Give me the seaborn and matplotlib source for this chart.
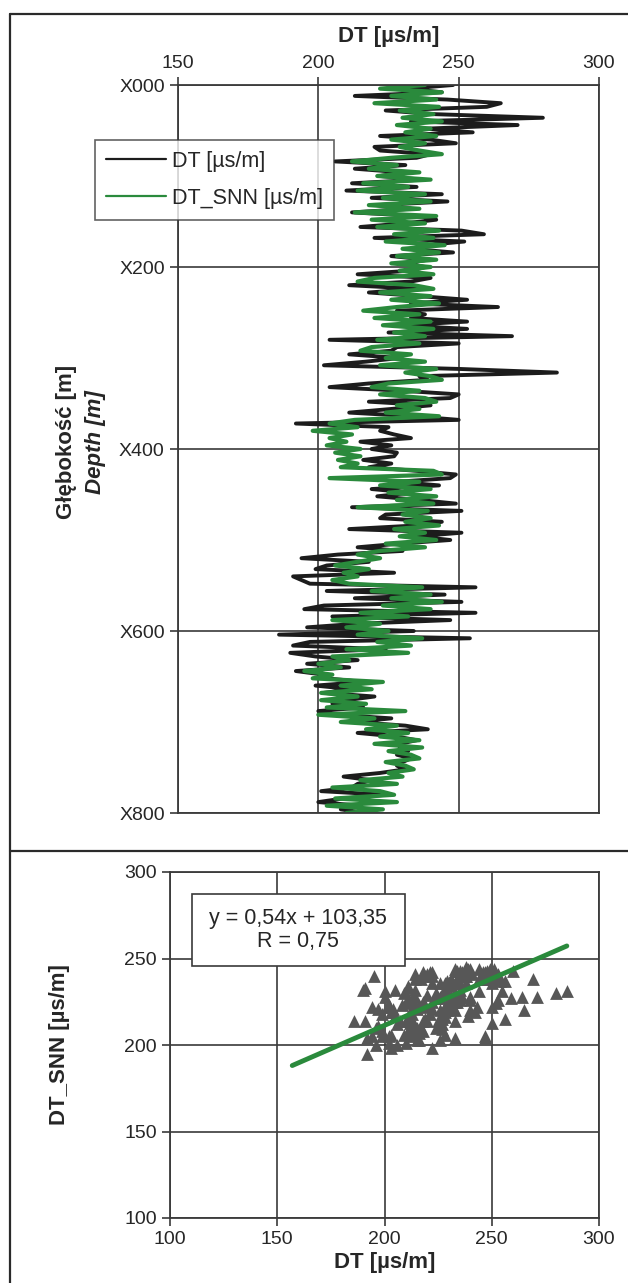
import numpy as np
import matplotlib.pyplot as plt
import seaborn as sns
from matplotlib.lines import Line2D
from matplotlib.patches import Rectangle

# depth log, one sample every 4 m (X000 .. X800)
depth = list(range(0, 801, 4))

dt = [248, 232, 244, 213, 246, 265, 260, 224, 241, 280,
      233, 271, 238, 255, 222, 240, 249, 220, 222, 240,
      235, 206, 231, 213, 230, 222, 237, 212, 235, 210,
      244, 219, 246, 221, 233, 212, 236, 242, 231, 215,
      251, 259, 220, 252, 238, 233, 248, 226, 239, 231,
      238, 233, 214, 240, 233, 211, 236, 218, 236, 253,
      233, 264, 228, 238, 233, 253, 229, 253, 225, 269,
      204, 250, 228, 226, 211, 229, 217, 202, 250, 285,
      236, 239, 218, 204, 230, 250, 247, 218, 240, 226,
      211, 234, 250, 192, 225, 222, 227, 233, 215, 226,
      219, 228, 227, 216, 226, 218, 235, 249, 247, 228,
      243, 219, 233, 221, 236, 249, 212, 251, 224, 222,
      244, 235, 211, 251, 235, 247, 229, 214, 230, 207,
      194, 218, 203, 199, 227, 191, 194, 197, 256, 203,
      245, 213, 251, 202, 195, 256, 205, 247, 214, 196,
      234, 186, 254, 197, 191, 224, 190, 199, 214, 196,
      211, 192, 202, 203, 216, 199, 212, 202, 220, 210,
      205, 216, 200, 206, 226, 213, 231, 239, 214, 228,
      235, 229, 229, 232, 228, 233, 230, 228, 231, 222,
      209, 219, 214, 212, 201, 224, 209, 200, 215, 208,
      217]

dt_snn = [238, 222, 244, 226, 242, 220, 243, 229, 241, 230,
          244, 228, 240, 231, 242, 226, 238, 229, 236, 244,
          226, 212, 228, 218, 236, 221, 240, 216, 232, 214,
          238, 223, 240, 218, 236, 213, 242, 219, 238, 221,
          243, 227, 241, 224, 245, 230, 243, 228, 242, 226,
          240, 229, 241, 220, 214, 234, 241, 222, 240, 226,
          243, 228, 216, 236, 220, 240, 223, 241, 227, 238,
          221, 236, 219, 215, 233, 224, 238, 222, 242, 231,
          240, 244, 225, 219, 236, 222, 238, 242, 228, 236,
          224, 243, 213, 204, 214, 198, 212, 204, 210, 203,
          215, 206, 215, 207, 214, 208, 241, 244, 204, 236,
          222, 240, 225, 242, 228, 241, 214, 239, 230, 240,
          231, 243, 227, 238, 229, 242, 224, 238, 222, 214,
          222, 214, 206, 218, 209, 214, 205, 211, 237, 219,
          240, 226, 244, 223, 240, 215, 232, 205, 222, 210,
          225, 214, 237, 221, 233, 210, 232, 205, 211, 200,
          208, 195, 205, 198, 223, 208, 219, 201, 214, 201,
          217, 203, 231, 200, 220, 208, 228, 217, 232, 222,
          236, 220, 237, 225, 233, 236, 224, 231, 234, 225,
          230, 215, 228, 205, 222, 227, 206, 228, 203, 223,
          210]

depth_ticks = [0, 200, 400, 600, 800]
depth_labels = ["X000", "X200", "X400", "X600", "X800"]

# linear fit printed on the crossplot
fit_slope = 0.54
fit_intercept = 103.35
fit_x = np.array([157, 285])
fit_text = "y = 0,54x + 103,35\nR = 0,75"

BLACK = "#1c1c1c"
GREEN = "#2a8a3c"
GRID = "#3a3a3a"

sns.set_style("white")
plt.rcParams["font.family"] = ["Liberation Sans", "DejaVu Sans"]

W, H = 628, 1283
fig = plt.figure(figsize=(W / 100, H / 100), dpi=100)

# ---- top panel: depth log ----
ax1 = fig.add_axes([178 / W, 1 - 813 / H, 421 / W, 728 / H])
sns.lineplot(x=dt, y=depth, sort=False, estimator=None, color=BLACK, lw=2.8,
             label="DT [µs/m]", ax=ax1)
sns.lineplot(x=dt_snn, y=depth, sort=False, estimator=None, color=GREEN, lw=3.0,
             label="DT_SNN [µs/m]", ax=ax1)
ax1.set_xlim(150, 300)
ax1.set_ylim(800, 0)
ax1.set_xticks([150, 200, 250, 300])
ax1.set_yticks(depth_ticks)
ax1.set_yticklabels(depth_labels)
ax1.xaxis.tick_top()
ax1.xaxis.set_label_position("top")
ax1.set_xlabel("DT [µs/m]", fontsize=16, fontweight="bold", labelpad=9)
ax1.set_ylabel("")
ax1.grid(True, color=GRID, lw=1.2)
ax1.tick_params(axis="both", labelsize=14, length=6, width=1.2, color=GRID,
                top=True, left=True, bottom=False, right=False)
ax1.text(-0.266, 0.51, "Głębokość [m]", transform=ax1.transAxes, rotation=90,
         ha="center", va="center", fontsize=16, fontweight="bold")
ax1.text(-0.197, 0.51, "Depth [m]", transform=ax1.transAxes, rotation=90,
         ha="center", va="center", fontsize=16, fontweight="bold", style="italic")
leg = ax1.legend(loc="upper left", bbox_to_anchor=(95 / W, 1 - 140 / H),
                 bbox_transform=fig.transFigure, fontsize=15.5, frameon=True,
                 fancybox=False, handlelength=2.8, handletextpad=0.3,
                 labelspacing=0.75, borderpad=0.5, borderaxespad=0)
leg.get_frame().set_edgecolor(GRID)
leg.get_frame().set_linewidth(1.2)
for line in leg.get_lines():
    line.set_linewidth(1.6)

# ---- bottom panel: crossplot ----
ax2 = fig.add_axes([170 / W, 1 - 1218 / H, 429 / W, 346 / H])
sns.scatterplot(x=dt, y=dt_snn, marker="^", s=85, color="#575757",
                linewidth=0, ax=ax2, zorder=3)
sns.lineplot(x=fit_x, y=fit_slope * fit_x + fit_intercept, color=GREEN, lw=3.5,
             ax=ax2, zorder=4)
ax2.set_xlim(100, 300)
ax2.set_ylim(100, 300)
ax2.set_xticks([100, 150, 200, 250, 300])
ax2.set_yticks([100, 150, 200, 250, 300])
ax2.grid(True, color=GRID, lw=1.2)
ax2.tick_params(axis="both", labelsize=14, length=6, width=1.2, color=GRID,
                left=True, bottom=True)
ax2.set_xlabel("DT [µs/m]", fontsize=16, fontweight="bold", labelpad=3)
ax2.set_ylabel("DT_SNN [µs/m]", fontsize=16, fontweight="bold")
ax2.yaxis.set_label_coords(-0.233, 0.5)
ax2.add_patch(Rectangle((22 / 429, (1218 - 966) / 346), 213 / 429, 72 / 346,
                        transform=ax2.transAxes, facecolor="white",
                        edgecolor=GRID, lw=1.2, zorder=5))
ax2.text(0.298, 0.832, fit_text, transform=ax2.transAxes, ha="center",
         va="center", fontsize=15.5, linespacing=1.1, zorder=6)

for ax in (ax1, ax2):
    for sp in ax.spines.values():
        sp.set_visible(True)
        sp.set_color(GRID)
        sp.set_linewidth(1.3)

# outer frame and divider
fx = 10 / W
fig.add_artist(Line2D([fx, fx], [0, 1 - 14 / H], transform=fig.transFigure,
                      color="#2a2a2a", lw=1.6))
fig.add_artist(Line2D([fx, 1], [1 - 14 / H, 1 - 14 / H], transform=fig.transFigure,
                      color="#2a2a2a", lw=1.6))
fig.add_artist(Line2D([fx, 1], [1 - 851 / H, 1 - 851 / H], transform=fig.transFigure,
                      color="#2a2a2a", lw=1.6))

fig.savefig("out.png", dpi=100)
